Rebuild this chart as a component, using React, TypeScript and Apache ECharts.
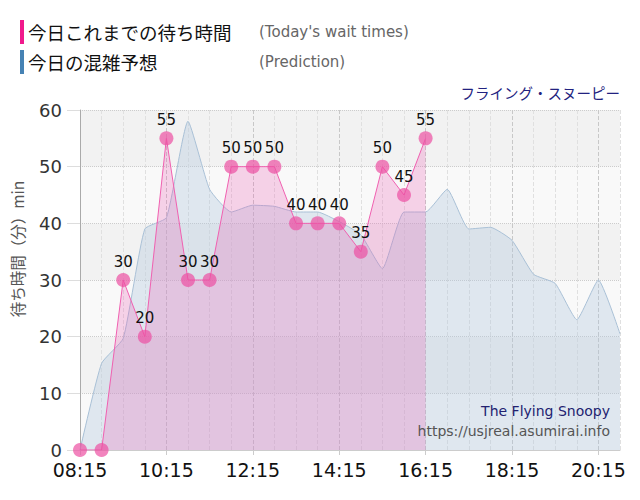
import React, { useEffect, useRef } from "react";
import * as echarts from "echarts";

const times = [
  "08:15", "08:45", "09:15", "09:45", "10:15", "10:45", "11:15", "11:45", "12:15",
  "12:45", "13:15", "13:45", "14:15", "14:45", "15:15", "15:45", "16:15", "16:45",
  "17:15", "17:45", "18:15", "18:45", "19:15", "19:45", "20:15", "20:45",
];

const waitTimes = [0, 0, 30, 20, 55, 30, 30, 50, 50, 50, 40, 40, 40, 35, 50, 45, 55];

const prediction = [
  0, 15.3, 19.7, 39, 41, 58, 46, 42, 43.2, 43, 42, 42, 40.3, 38, 32, 42, 42, 46,
  39, 39.3, 37, 31, 29.4, 23, 30, 20.5,
];

const yTicks = { min: 0, max: 60, interval: 10 };

const JP = '"Noto Sans CJK JP", sans-serif';
const LAT = '"DejaVu Sans", Verdana, sans-serif';

export default function App() {
  const ref = useRef<HTMLDivElement>(null);
  useEffect(() => {
    if (!ref.current) return;
    document.body.style.margin = "0";
    const chart = echarts.init(ref.current, undefined, { renderer: "svg" });
    chart.setOption({
      animation: false,
      grid: { left: 80, right: 20, top: 110, bottom: 50, containLabel: false, outerBoundsMode: "none" },
      graphic: [
        { type: "rect", shape: { x: 20, y: 20, width: 4, height: 24 }, style: { fill: "#f0198c" } },
        { type: "text", x: 28, y: 32, style: { text: "今日これまでの待ち時間", font: `18.5px ${JP}`, fill: "#111", textVerticalAlign: "middle" } },
        { type: "text", x: 259, y: 32, style: { text: "(Today's wait times)", font: `15px ${LAT}`, fill: "#666", textVerticalAlign: "middle" } },
        { type: "rect", shape: { x: 20, y: 50, width: 4, height: 24 }, style: { fill: "#4682b4" } },
        { type: "text", x: 28, y: 62, style: { text: "今日の混雑予想", font: `18.5px ${JP}`, fill: "#111", textVerticalAlign: "middle" } },
        { type: "text", x: 259, y: 62, style: { text: "(Prediction)", font: `15px ${LAT}`, fill: "#666", textVerticalAlign: "middle" } },
        { type: "text", x: 620, y: 92, style: { text: "フライング・スヌーピー", font: `14.5px ${JP}`, fill: "#222280", textAlign: "right", textVerticalAlign: "middle" } },
        {
          type: "text", x: 17, y: 249, rotation: Math.PI / 2,
          style: { text: "待ち時間（分）min", font: `15.5px ${JP}`, fill: "#555", textAlign: "center", textVerticalAlign: "middle" },
        },
        { type: "text", x: 610, y: 411, z: 100, style: { text: "The Flying Snoopy", font: `14px ${LAT}`, fill: "#222270", textAlign: "right", textVerticalAlign: "middle" } },
        { type: "text", x: 610, y: 431, z: 100, style: { text: "https://usjreal.asumirai.info", font: `14px ${LAT}`, fill: "#555", textAlign: "right", textVerticalAlign: "middle" } },
      ],
      xAxis: {
        type: "category",
        data: times,
        boundaryGap: false,
        axisLine: { show: true, lineStyle: { color: "#ccc" } },
        axisTick: { show: true, interval: 3, length: 5, lineStyle: { color: "#ccc" } },
        axisLabel: { interval: 3, fontSize: 19, color: "#111", fontFamily: LAT, margin: 10 },
        splitLine: {
          show: true,
          interval: 0,
          lineStyle: { color: ["#c8c8c8", "#e0e0e0", "#e0e0e0", "#e0e0e0"], type: "dashed", width: 1 },
        },
      },
      yAxis: {
        type: "value",
        min: yTicks.min,
        max: yTicks.max,
        interval: yTicks.interval,
        axisLine: { show: true, lineStyle: { color: "#aaa" } },
        axisTick: { show: true, length: 13, lineStyle: { color: "#ddd" } },
        axisLabel: { fontSize: 18, color: "#333", fontFamily: LAT, margin: 18 },
        splitLine: { show: true, lineStyle: { color: "#ccc", type: "dotted" } },
        splitArea: { show: true, areaStyle: { color: ["#f9f9f9", "#f2f2f2"] } },
      },
      series: [
        {
          name: "prediction",
          type: "line",
          data: prediction,
          smooth: 0.15,
          symbol: "none",
          lineStyle: { color: "#a9c0d6", width: 1 },
          areaStyle: { color: "rgba(176,198,222,0.5)" },
          z: 2,
        },
        {
          name: "wait",
          type: "line",
          data: waitTimes,
          symbol: "circle",
          symbolSize: 14,
          showAllSymbol: true,
          itemStyle: { color: "rgba(236,80,162,0.7)" },
          lineStyle: { color: "#f060b0", width: 1 },
          areaStyle: { color: "rgba(236,90,180,0.36)" },
          labelLayout: { hideOverlap: false },
          label: {
            show: true,
            position: "top",
            distance: 4,
            fontSize: 15,
            color: "#111",
            fontFamily: LAT,
            formatter: (p: any) => (p.value === 0 ? "" : String(p.value)),
          },
          z: 3,
        },
      ],
    });
    return () => chart.dispose();
  }, []);
  return <div ref={ref} style={{ width: 640, height: 500 }} />;
}
